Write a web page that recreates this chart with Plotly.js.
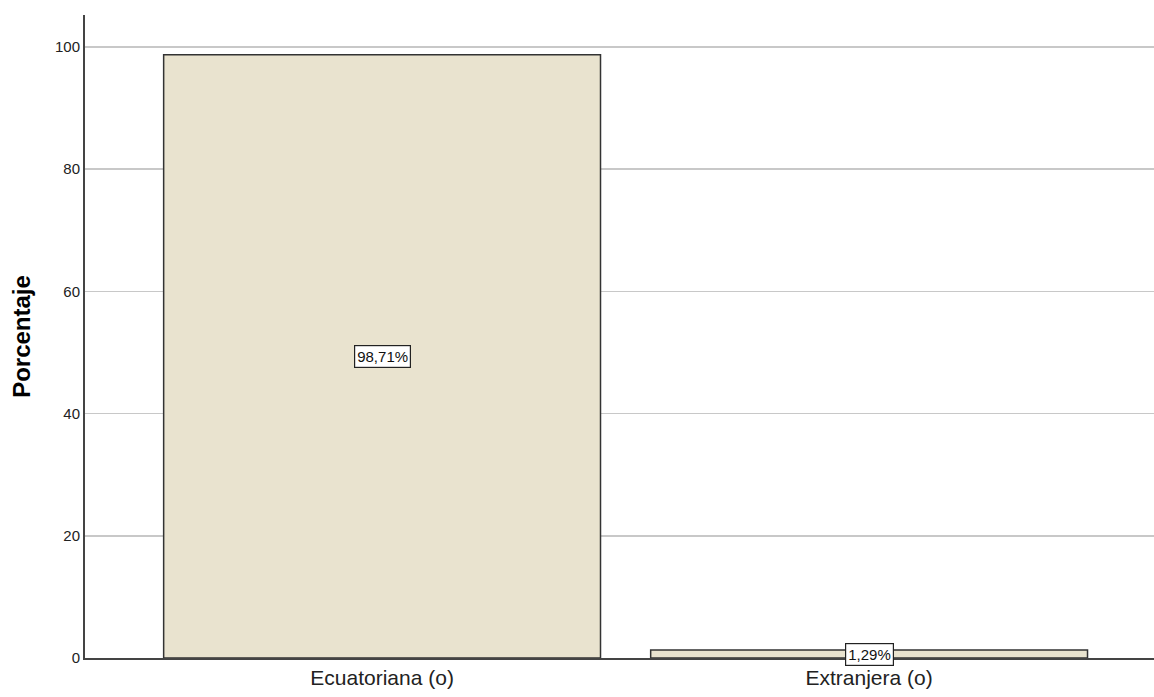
<!DOCTYPE html>
<html>
<head>
<meta charset="utf-8">
<script src="https://cdn.plot.ly/plotly-3.0.1.min.js"></script>
<style>html,body{margin:0;padding:0;background:#fff;}#chart{width:1154px;height:697px;}</style>
</head>
<body>
<div id="chart"></div>
<script>
const categories = ["Ecuatoriana (o)", "Extranjera (o)"];
const values = [98.71, 1.29];
const valueLabels = ["98,71%", "1,29%"];
const yTicks = [0, 20, 40, 60, 80, 100];

const font = "'Liberation Sans', Arial, sans-serif";

const trace = {
  type: 'bar',
  x: [0, 1],
  y: values,
  width: 0.897,
  marker: {color: '#E9E3CF', line: {color: '#333333', width: 1.5}},
  hoverinfo: 'none'
};

const annotations = values.map((v, i) => ({
  x: i, y: v / 2, xref: 'x', yref: 'y',
  text: valueLabels[i], showarrow: false,
  font: {family: font, size: 15, color: '#111'},
  bgcolor: '#ffffff', bordercolor: '#222', borderwidth: 1.2, borderpad: 2
}));

const layout = {
  width: 1154, height: 697,
  margin: {l: 85, r: 0, t: 15, b: 39},
  paper_bgcolor: '#fff', plot_bgcolor: '#fff',
  showlegend: false,
  font: {family: font, color: '#222'},
  xaxis: {
    range: [-0.61, 1.585],
    tickvals: [0, 1], ticktext: categories,
    tickfont: {family: font, size: 21, color: '#222'},
    showgrid: false, zeroline: false,
    showline: true, linecolor: '#444', linewidth: 2,
    ticks: '', fixedrange: true
  },
  yaxis: {
    range: [0, 105.2],
    tickvals: yTicks,
    tickfont: {family: font, size: 15, color: '#222'},
    showgrid: true, gridcolor: '#c8c8c8', gridwidth: 1.5,
    zeroline: false,
    showline: true, linecolor: '#444', linewidth: 2,
    ticks: '', ticklen: 0,
    title: {text: '<b>Porcentaje</b>', font: {family: font, size: 24, color: '#000'}, standoff: 18}
  },
  annotations: annotations,
  bargap: 0
};

Plotly.newPlot('chart', [trace], layout, {displayModeBar: false, staticPlot: true});
</script>
</body>
</html>
